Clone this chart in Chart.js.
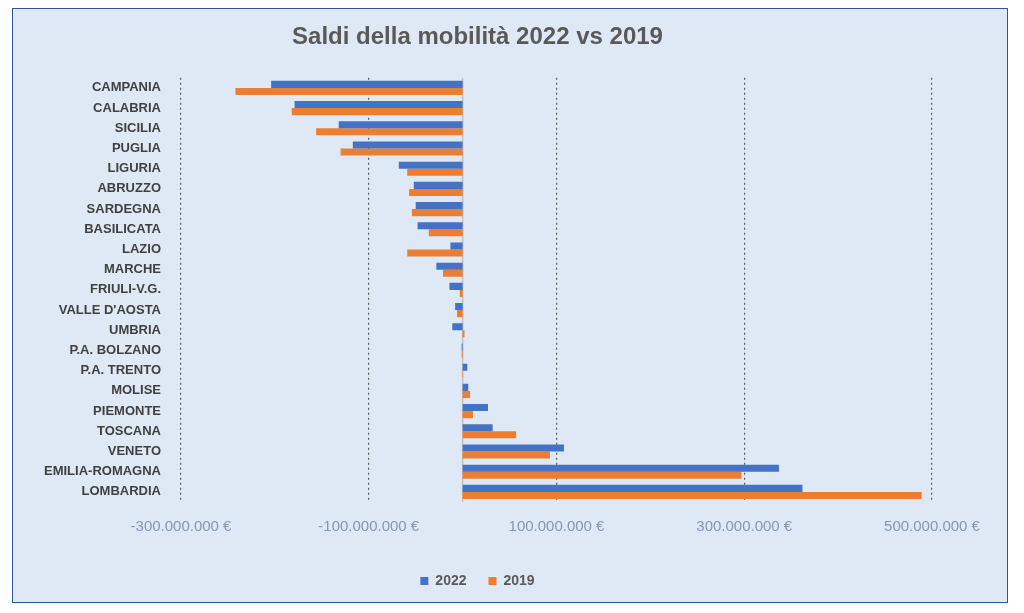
<!DOCTYPE html>
<html>
<head>
<meta charset="utf-8">
<script src="https://cdn.jsdelivr.net/npm/chart.js@4"></script>
<style>
  body { margin: 0; background: #fff; }
  #box { position: absolute; left: 12px; top: 8px; width: 994px; height: 593px;
         border: 1.5px solid #2f5597; background: #dfe9f5; }
  canvas { display: block; }
</style>
</head>
<body>
<div id="box"><canvas id="c" width="994" height="593"></canvas></div>
<script>
// Saldi della mobilità per regione (euro)
const regioni = ['CAMPANIA', 'CALABRIA', 'SICILIA', 'PUGLIA', 'LIGURIA', 'ABRUZZO', 'SARDEGNA',
  'BASILICATA', 'LAZIO', 'MARCHE', 'FRIULI-V.G.', "VALLE D'AOSTA", 'UMBRIA', 'P.A. BOLZANO',
  'P.A. TRENTO', 'MOLISE', 'PIEMONTE', 'TOSCANA', 'VENETO', 'EMILIA-ROMAGNA', 'LOMBARDIA'];
const saldi2022 = [-204e6, -179e6, -132e6, -117e6, -68e6, -52e6, -50e6, -48e6, -13e6, -28e6,
  -14e6, -8e6, -11e6, -1e6, 5e6, 6e6, 27e6, 32e6, 108e6, 337e6, 362e6];
const saldi2019 = [-242e6, -182e6, -156e6, -130e6, -59e6, -57e6, -54e6, -36e6, -59e6, -21e6,
  -3e6, -6e6, 2e6, -1e6, 0.5e6, 8e6, 11e6, 57e6, 93e6, 297e6, 489e6];

const euro = v => (v < 0 ? '-' : '') + Math.abs(v).toString().replace(/\B(?=(\d{3})+(?!\d))/g, '.') + ' €';

// linea dello zero
const zeroLine = {
  id: 'zeroLine',
  beforeDatasetsDraw(chart) {
    const { ctx, chartArea, scales } = chart;
    const x = scales.x.getPixelForValue(0);
    ctx.save();
    ctx.strokeStyle = '#bfbfbf';
    ctx.lineWidth = 1.5;
    ctx.beginPath();
    ctx.moveTo(x, chartArea.top);
    ctx.lineTo(x, chartArea.bottom);
    ctx.stroke();
    ctx.restore();
  }
};

new Chart(document.getElementById('c'), {
  type: 'bar',
  data: {
    labels: regioni,
    datasets: [
      { label: '2022', data: saldi2022, backgroundColor: '#4472c4' },
      { label: '2019', data: saldi2019, backgroundColor: '#ed7d31' }
    ]
  },
  options: {
    indexAxis: 'y',
    responsive: false,
    animation: false,
    categoryPercentage: 0.7,
    barPercentage: 1,
    layout: { padding: { left: 10, right: 75, top: 0, bottom: 4 } },
    plugins: {
      title: { display: true, text: 'Saldi della mobilità 2022 vs 2019', color: '#595959',
        font: { family: 'Liberation Sans', size: 24, weight: 'bold' }, padding: { top: 14, bottom: 26 } },
      legend: { position: 'bottom', labels: { boxWidth: 8, boxHeight: 8, color: '#595959',
        font: { family: 'Liberation Sans', size: 14, weight: 'bold' }, padding: 22 } },
      tooltip: { enabled: false }
    },
    scales: {
      x: {
        min: -300e6, max: 500e6,
        ticks: { stepSize: 200e6, callback: v => euro(v), color: '#8497b0', padding: 16,
          font: { family: 'Liberation Sans', size: 15 } },
        grid: { color: '#595959', lineWidth: 1.2, tickLength: 0, drawTicks: false },
        border: { display: false, dash: [2, 3] }
      },
      y: {
        position: 'left',
        afterFit: s => { s.width = 158; },
        ticks: { color: '#404040', font: { family: 'Liberation Sans', size: 13, weight: 'bold' }, padding: 12 },
        grid: { display: false },
        border: { display: false }
      }
    }
  },
  plugins: [zeroLine]
});
</script>
</body>
</html>
